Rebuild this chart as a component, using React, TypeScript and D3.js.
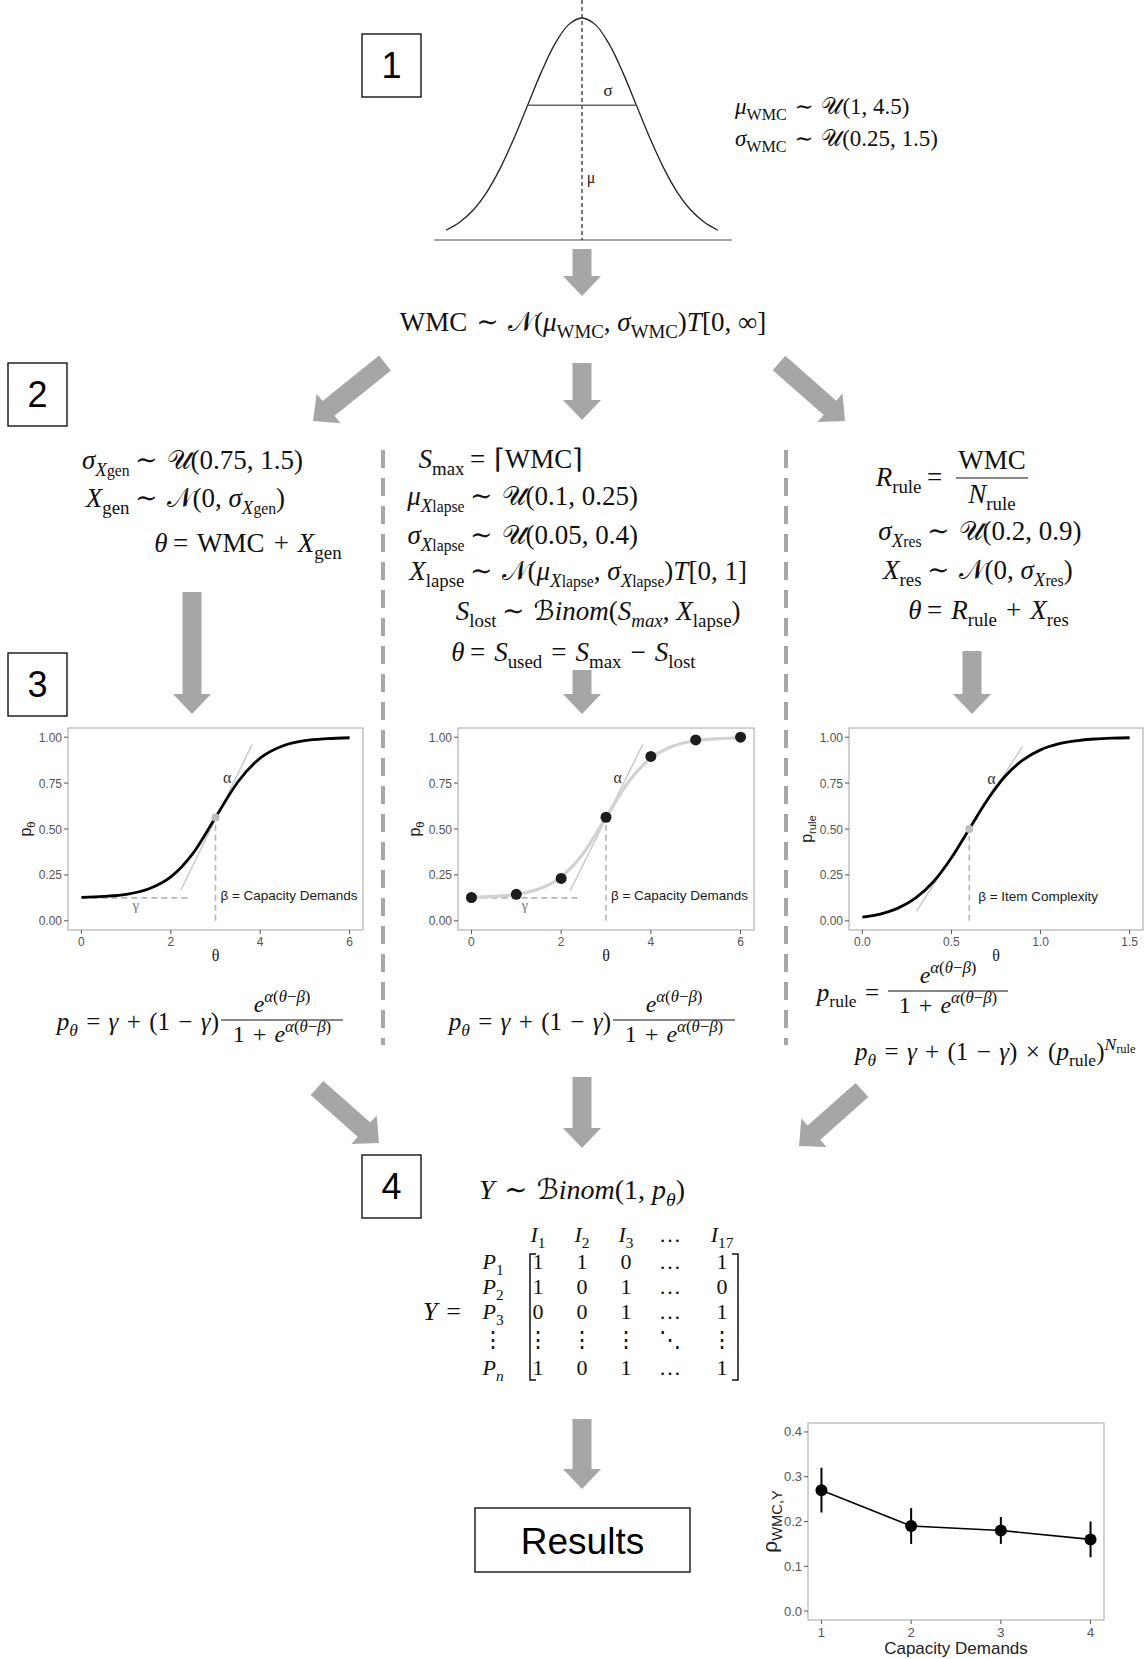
import React from 'react';
import * as d3 from 'd3';

const SERIF = '"Liberation Serif", "DejaVu Serif", serif';
const SANS = '"Liberation Sans", Arial, sans-serif';
const CAL = '"DejaVu Serif", "DejaVu Sans", "Noto Sans", serif';
const ARROW = '#a6a6a6';
const INK = '#111';
const TS = '\u2004';

// step 1: gaussian sketch, relative density at z (in sd units)
const gaussZ = [-2.5, -2.25, -2, -1.75, -1.5, -1.25, -1, -0.75, -0.5, -0.25, 0, 0.25, 0.5, 0.75, 1, 1.25, 1.5, 1.75, 2, 2.25, 2.5];
const gaussD = [0.044, 0.08, 0.135, 0.216, 0.325, 0.458, 0.607, 0.755, 0.882, 0.969, 1, 0.969, 0.882, 0.755, 0.607, 0.458, 0.325, 0.216, 0.135, 0.08, 0.044];

// step 3: item characteristic curves
const thetaCap = [0, 0.5, 1, 1.5, 2, 2.5, 3, 3.5, 4, 4.5, 5, 5.5, 6];
const pCap = [0.128, 0.133, 0.144, 0.173, 0.239, 0.369, 0.563, 0.756, 0.886, 0.952, 0.981, 0.992, 0.997];
const thetaSteps = [0, 1, 2, 3, 4, 5, 6];
const pSteps = [0.127, 0.144, 0.231, 0.564, 0.895, 0.985, 1.0];
const thetaRule = [0, 0.1, 0.2, 0.3, 0.4, 0.5, 0.6, 0.7, 0.8, 0.9, 1.0, 1.1, 1.2, 1.3, 1.4, 1.5];
const pRule = [0.02, 0.037, 0.069, 0.125, 0.214, 0.343, 0.5, 0.657, 0.786, 0.875, 0.931, 0.963, 0.98, 0.99, 0.995, 0.997];
const capTicks = [0, 2, 4, 6];
const ruleTicks = [0, 0.5, 1, 1.5];
const probTicks = [0, 0.25, 0.5, 0.75, 1];

// results
const capDemands = [1, 2, 3, 4];
const rhoMean = [0.27, 0.19, 0.18, 0.16];
const rhoLow = [0.22, 0.15, 0.15, 0.12];
const rhoHigh = [0.32, 0.23, 0.21, 0.2];
const rhoTicks = [0, 0.1, 0.2, 0.3, 0.4];

// step 4: response matrix
const itemIdx = ['1', '2', '3', '…', '17'];
const personIdx = ['1', '2', '3', '⋮', 'n'];
const matrixRows = [
  ['1', '1', '0', '…', '1'],
  ['1', '0', '1', '…', '0'],
  ['0', '0', '1', '…', '1'],
  ['⋮', '⋮', '⋮', '⋱', '⋮'],
  ['1', '0', '1', '…', '1'],
];

type Seg = { t: string; it?: boolean; lv?: number; cal?: boolean };
const R = (t: string): Seg => ({ t });
const I = (t: string): Seg => ({ t, it: true });
const Sb = (t: string, it = false): Seg => ({ t, lv: 1, it });
const Ss = (t: string): Seg => ({ t, lv: 4 });
const Sp = (t: string, it = false): Seg => ({ t, lv: -1, it });
const SpSb = (t: string): Seg => ({ t, lv: 3 });
const C = (t: string): Seg => ({ t, cal: true });

function level(lv: number): [number, number] {
  if (lv === 1) return [0.25, 0.7];
  if (lv === 4) return [0.25, 0.58];
  if (lv === -1) return [-0.42, 0.7];
  if (lv === 3) return [-0.3, 0.5];
  return [0, 1];
}

// widen the spaces around relations and operators, roughly as TeX does
function spaced(t: string) {
  return t
    .replace(/ ([∼=+−×]) /g, `${TS}$1${TS}`)
    .replace(/^([∼=]) /, `$1${TS}`)
    .replace(/ ([∼=])$/, `${TS}$1`);
}

function MathText({ x, y, segs, size = 24, anchor = 'start', fill = INK, family = SERIF, transform }: any) {
  let cur = 0;
  return (
    <text x={x} y={y} fontFamily={family} fontSize={size} textAnchor={anchor} fill={fill}
      transform={transform} style={{ whiteSpace: 'pre' }}>
      {segs.map((s: Seg, k: number) => {
        const [off, sc] = level(s.lv ?? 0);
        const dy = (off - cur) * size;
        cur = off;
        return (
          <tspan key={k} dy={dy} fontSize={size * sc} fontStyle={s.it ? 'italic' : 'normal'}
            fontFamily={s.cal ? CAL : undefined}>{spaced(s.t)}</tspan>
        );
      })}
    </text>
  );
}

function Eq({ rx, y, lhs, rhs, size = 27 }: any) {
  return (
    <g>
      <MathText x={rx - size * 0.5} y={y} segs={lhs} size={size} anchor="end" />
      <MathText x={rx - size * 0.3} y={y} segs={rhs} size={size} />
    </g>
  );
}

function Frac({ cx, bar, w, num, den, size = 24, gapUp = 8, gapDown = 22 }: any) {
  return (
    <g>
      <MathText x={cx} y={bar - gapUp} segs={num} size={size} anchor="middle" />
      <line x1={cx - w / 2} x2={cx + w / 2} y1={bar} y2={bar} stroke={INK} strokeWidth={1.1} />
      <MathText x={cx} y={bar + gapDown} segs={den} size={size} anchor="middle" />
    </g>
  );
}

function Arrow({ x1, y1, x2, y2, shaft = 19, head = 38, hl = 20 }: any) {
  const L = Math.hypot(x2 - x1, y2 - y1);
  const ux = (x2 - x1) / L, uy = (y2 - y1) / L;
  const nx = -uy, ny = ux;
  const bx = x2 - ux * hl, by = y2 - uy * hl;
  const pts = [
    [x1 + nx * shaft / 2, y1 + ny * shaft / 2],
    [bx + nx * shaft / 2, by + ny * shaft / 2],
    [bx + nx * head / 2, by + ny * head / 2],
    [x2, y2],
    [bx - nx * head / 2, by - ny * head / 2],
    [bx - nx * shaft / 2, by - ny * shaft / 2],
    [x1 - nx * shaft / 2, y1 - ny * shaft / 2],
  ];
  return <polygon points={pts.map(p => p.join(',')).join(' ')} fill={ARROW} />;
}

function NumBox({ x, y, label }: any) {
  return (
    <g>
      <rect x={x} y={y} width={59} height={63} fill="none" stroke="#000" strokeWidth={1.3} />
      <text x={x + 29.5} y={y + 44} textAnchor="middle" fontFamily={SANS} fontSize={36} fill="#000">{label}</text>
    </g>
  );
}

const expo = [Sp('α', true), Sp('('), Sp('θ', true), Sp('−'), Sp('β', true), Sp(')')];
const numE = [I('e'), ...expo];
const denE = [R('1 + '), I('e'), ...expo];
const leadP = [I('p'), Sb('θ', true), R(' = '), I('γ'), R(' + (1 − '), I('γ'), R(')')];

function IrtPanel({ left, top, w, h, xDomain, xTicks, xFmt, ylab, ylx, curveX, curveY, curveColor,
  dotsX, dotsY, tangent, gammaEnd, beta, alphaAt, betaAt, betaText, gammaAt }: any) {
  const x = d3.scaleLinear().domain(xDomain).range([left, left + w]);
  const y = d3.scaleLinear().domain([-0.05, 1.05]).range([top + h, top]);
  const line = d3.line<number>().x((_, i) => x(curveX[i])).y(d => y(d)).curve(d3.curveMonotoneX);
  const pBeta = curveY[curveX.indexOf(beta)];
  return (
    <g>
      <rect x={left} y={top} width={w} height={h} fill="#fff" stroke="#b3b3b3" strokeWidth={1.2} />
      {probTicks.map(t => (
        <g key={t}>
          <line x1={left - 4} x2={left} y1={y(t)} y2={y(t)} stroke="#555" />
          <text x={left - 6} y={y(t) + 4.5} textAnchor="end" fontFamily={SANS} fontSize={12} fill="#555">
            {d3.format('.2f')(t)}</text>
        </g>
      ))}
      {xTicks.map((t: number) => (
        <g key={t}>
          <line x1={x(t)} x2={x(t)} y1={top + h} y2={top + h + 4} stroke="#555" />
          <text x={x(t)} y={top + h + 16} textAnchor="middle" fontFamily={SANS} fontSize={12} fill="#555">
            {xFmt(t)}</text>
        </g>
      ))}
      <MathText x={left + w / 2} y={top + h + 31} segs={[R('θ')]} size={16} anchor="middle" fill="#222" />
      <MathText x={0} y={0} segs={ylab} size={16} anchor="middle" family={SANS} fill="#222"
        transform={`translate(${ylx},${top + h / 2}) rotate(-90)`} />
      {gammaEnd != null && (
        <line x1={x(0)} x2={x(gammaEnd)} y1={y(curveY[0] - 0.003)} y2={y(curveY[0] - 0.003)}
          stroke="#b5b5b5" strokeWidth={1.6} strokeDasharray="6 4" />
      )}
      <line x1={x(beta)} x2={x(beta)} y1={y(0)} y2={y(pBeta - 0.04)} stroke="#b5b5b5" strokeWidth={1.6}
        strokeDasharray="6 4" />
      <line x1={x(tangent[0][0])} y1={y(tangent[0][1])} x2={x(tangent[1][0])} y2={y(tangent[1][1])}
        stroke="#c4c4c4" strokeWidth={1.3} />
      <path d={line(curveY) || ''} fill="none" stroke={curveColor} strokeWidth={curveColor === '#000' ? 2.8 : 3.2} />
      {dotsX ? dotsX.map((t: number, i: number) => (
        <circle key={t} cx={x(t)} cy={y(dotsY[i])} r={5.5} fill="#1c1c1c" />
      )) : <circle cx={x(beta)} cy={y(pBeta)} r={4} fill="#bdbdbd" />}
      <MathText x={x(alphaAt[0])} y={y(alphaAt[1]) + 5} segs={[R('α')]} size={16} anchor="middle" fill="#333" />
      {gammaAt && (
        <MathText x={x(gammaAt[0])} y={y(gammaAt[1]) + 5} segs={[R('γ')]} size={15} anchor="middle" fill="#777" />
      )}
      <text x={x(betaAt[0])} y={y(betaAt[1])} fontFamily={SANS} fontSize={13.5} fill="#1a1a1a">{betaText}</text>
    </g>
  );
}

function ResultsPlot() {
  const left = 808, top = 1423, w = 296, h = 197;
  const x = d3.scaleLinear().domain([0.85, 4.15]).range([left, left + w]);
  const y = d3.scaleLinear().domain([-0.02, 0.42]).range([top + h, top]);
  const line = d3.line<number>().x((_, i) => x(capDemands[i])).y(d => y(d));
  return (
    <g>
      <rect x={left} y={top} width={w} height={h} fill="#fff" stroke="#b3b3b3" strokeWidth={1.2} />
      {rhoTicks.map(t => (
        <g key={t}>
          <line x1={left - 4} x2={left} y1={y(t)} y2={y(t)} stroke="#555" />
          <text x={left - 6} y={y(t) + 4.5} textAnchor="end" fontFamily={SANS} fontSize={13} fill="#555">
            {d3.format('.1f')(t)}</text>
        </g>
      ))}
      {capDemands.map(t => (
        <g key={t}>
          <line x1={x(t)} x2={x(t)} y1={top + h} y2={top + h + 4} stroke="#555" />
          <text x={x(t)} y={top + h + 17} textAnchor="middle" fontFamily={SANS} fontSize={13} fill="#555">{t}</text>
        </g>
      ))}
      <text x={left + w / 2} y={1654} textAnchor="middle" fontFamily={SANS} fontSize={17} fill="#222">Capacity Demands</text>
      <MathText x={0} y={0} segs={[R('ρ'), Sb('WMC,Y')]} size={21} anchor="middle" family={SANS} fill="#222"
        transform={`translate(777,${top + h / 2}) rotate(-90)`} />
      {capDemands.map((c, i) => (
        <line key={c} x1={x(c)} x2={x(c)} y1={y(rhoLow[i])} y2={y(rhoHigh[i])} stroke="#000" strokeWidth={2} />
      ))}
      <path d={line(rhoMean) || ''} fill="none" stroke="#000" strokeWidth={1.6} />
      {capDemands.map((c, i) => (
        <circle key={c} cx={x(c)} cy={y(rhoMean[i])} r={6} fill="#000" />
      ))}
    </g>
  );
}

function Gaussian() {
  const x = d3.scaleLinear().domain([-2.5, 2.5]).range([446, 718]);
  const y = d3.scaleLinear().domain([0, 1]).range([240, 18]);
  const line = d3.line<number>().x((_, i) => x(gaussZ[i])).y(d => y(d)).curve(d3.curveCatmullRom);
  const yS = y(gaussD[gaussZ.indexOf(1)]);
  return (
    <g>
      <line x1={434} x2={732} y1={240} y2={240} stroke="#8a8a8a" strokeWidth={1.6} />
      <line x1={x(0)} x2={x(0)} y1={0} y2={240} stroke="#222" strokeWidth={1.2} strokeDasharray="4 3" />
      <path d={line(gaussD) || ''} fill="none" stroke="#222" strokeWidth={1.3} />
      <line x1={x(-1)} x2={x(1)} y1={yS} y2={yS} stroke="#666" strokeWidth={1.6} />
      <MathText x={608} y={96} segs={[R('σ')]} size={17} anchor="middle" fill="#222" />
      <MathText x={591} y={183} segs={[R('μ')]} size={16} anchor="middle" fill="#222" />
    </g>
  );
}

function Matrix() {
  const cols = [538, 582, 626, 670, 722];
  const rows = [1269, 1294, 1319, 1347, 1375];
  return (
    <g>
      <MathText x={423} y={1320} segs={[I('Y'), R(' =')]} size={26} />
      {itemIdx.map((s, j) => (
        <MathText key={j} x={cols[j]} y={1242} anchor="middle" size={22}
          segs={s === '…' ? [R('…')] : [I('I'), Sb(s)]} />
      ))}
      {personIdx.map((s, i) => (
        <MathText key={i} x={493} y={rows[i]} anchor="middle" size={22}
          segs={s === '⋮' ? [R('⋮')] : [I('P'), Sb(s, s === 'n')]} />
      ))}
      {matrixRows.map((row, i) => row.map((v, j) => (
        <MathText key={`${i}-${j}`} x={cols[j]} y={rows[i]} anchor="middle" size={22} segs={[R(v)]} />
      )))}
      <path d="M536,1254 H530 V1380 H536" fill="none" stroke={INK} strokeWidth={1.5} />
      <path d="M732,1254 H738 V1380 H732" fill="none" stroke={INK} strokeWidth={1.5} />
    </g>
  );
}

export default function App() {
  return (
    <svg width={1148} height={1659} viewBox="0 0 1148 1659"
      style={{ position: 'absolute', left: 0, top: 0, background: '#fff' }}>
      <rect width={1148} height={1659} fill="#fff" />

      {/* 1: WMC distribution */}
      <NumBox x={362} y={34} label="1" />
      <Gaussian />
      <MathText x={735} y={114} size={23} segs={[I('μ'), Sb('WMC'), R(' ∼ '), C('𝒰'), R('(1, 4.5)')]} />
      <MathText x={735} y={146} size={23} segs={[I('σ'), Sb('WMC'), R(' ∼ '), C('𝒰'), R('(0.25, 1.5)')]} />
      <Arrow x1={582} y1={249} x2={582} y2={296} />
      <MathText x={583} y={331} size={27} anchor="middle"
        segs={[R('WMC ∼ '), C('𝒩'), R('('), I('μ'), Sb('WMC'), R(', '), I('σ'), Sb('WMC'), R(')'), I('T'), R('[0, ∞]')]} />

      {/* 2: theta per model */}
      <NumBox x={8} y={363} label="2" />
      <Arrow x1={385} y1={363} x2={313} y2={421} />
      <Arrow x1={582} y1={363} x2={582} y2={420} />
      <Arrow x1={779} y1={363} x2={845} y2={421} />

      <Eq rx={143} y={469} lhs={[I('σ'), Sb('X', true), Ss('gen')]} rhs={[R('∼ '), C('𝒰'), R('(0.75, 1.5)')]} />
      <Eq rx={143} y={507} lhs={[I('X'), Sb('gen')]}
        rhs={[R('∼ '), C('𝒩'), R('(0, '), I('σ'), Sb('X', true), Ss('gen'), R(')')]} />
      <Eq rx={181} y={552} lhs={[I('θ')]} rhs={[R('= WMC + '), I('X'), Sb('gen')]} />

      <Eq rx={478} y={468} lhs={[I('S'), Sb('max')]} rhs={[R('= ⌈WMC⌉')]} />
      <Eq rx={478} y={505} lhs={[I('μ'), Sb('X', true), Ss('lapse')]} rhs={[R('∼ '), C('𝒰'), R('(0.1, 0.25)')]} />
      <Eq rx={478} y={544} lhs={[I('σ'), Sb('X', true), Ss('lapse')]} rhs={[R('∼ '), C('𝒰'), R('(0.05, 0.4)')]} />
      <Eq rx={478} y={580} lhs={[I('X'), Sb('lapse')]}
        rhs={[R('∼ '), C('𝒩'), R('('), I('μ'), Sb('X', true), Ss('lapse'), R(', '), I('σ'), Sb('X', true), Ss('lapse'),
          R(')'), I('T'), R('[0, 1]')]} />
      <Eq rx={510} y={620} lhs={[I('S'), Sb('lost')]}
        rhs={[R('∼ '), C('ℬ'), I('inom'), R('('), I('S'), Sb('max', true), R(', '), I('X'), Sb('lapse'), R(')')]} />
      <Eq rx={478} y={661} lhs={[I('θ')]}
        rhs={[R('= '), I('S'), Sb('used'), R(' = '), I('S'), Sb('max'), R(' − '), I('S'), Sb('lost')]} />

      <Eq rx={935} y={486} lhs={[I('R'), Sb('rule')]} rhs={[R('=')]} />
      <Frac cx={992} bar={478} w={72} size={27} gapUp={9} gapDown={25} num={[R('WMC')]} den={[I('N'), Sb('rule')]} />
      <Eq rx={935} y={540} lhs={[I('σ'), Sb('X', true), Ss('res')]} rhs={[R('∼ '), C('𝒰'), R('(0.2, 0.9)')]} />
      <Eq rx={935} y={579} lhs={[I('X'), Sb('res')]}
        rhs={[R('∼ '), C('𝒩'), R('(0, '), I('σ'), Sb('X', true), Ss('res'), R(')')]} />
      <Eq rx={935} y={619} lhs={[I('θ')]} rhs={[R('= '), I('R'), Sb('rule'), R(' + '), I('X'), Sb('res')]} />

      {[383, 786].map(xd => (
        <line key={xd} x1={xd} x2={xd} y1={450} y2={1045} stroke={ARROW} strokeWidth={4} strokeDasharray="18 10" />
      ))}

      {/* 3: response probabilities */}
      <NumBox x={8} y={653} label="3" />
      <Arrow x1={192} y1={592} x2={192} y2={714} />
      <Arrow x1={582} y1={670} x2={582} y2={714} />
      <Arrow x1={972} y1={651} x2={972} y2={714} />

      <IrtPanel left={68} top={728} w={295} h={202} xDomain={[-0.3, 6.3]} xTicks={capTicks} xFmt={d3.format('d')}
        ylab={[R('p'), Sb('θ')]} ylx={31} curveX={thetaCap} curveY={pCap} curveColor="#000"
        tangent={[[2.22, 0.165], [3.82, 0.96]]} gammaEnd={2.45} beta={3} alphaAt={[3.26, 0.776]}
        gammaAt={[1.22, 0.085]} betaAt={[3.11, 0.113]} betaText="β = Capacity Demands" />
      <IrtPanel left={458} top={728} w={296} h={202} xDomain={[-0.3, 6.3]} xTicks={capTicks} xFmt={d3.format('d')}
        ylab={[R('p'), Sb('θ')]} ylx={420} curveX={thetaCap} curveY={pCap} curveColor="#d2d2d2"
        dotsX={thetaSteps} dotsY={pSteps}
        tangent={[[2.2, 0.164], [3.82, 0.96]]} gammaEnd={2.42} beta={3} alphaAt={[3.26, 0.78]}
        gammaAt={[1.19, 0.085]} betaAt={[3.11, 0.113]} betaText="β = Capacity Demands" />
      <IrtPanel left={849} top={728} w={294} h={202} xDomain={[-0.075, 1.575]} xTicks={ruleTicks}
        xFmt={d3.format('.1f')} ylab={[R('p'), Sb('rule')]} ylx={812} curveX={thetaRule} curveY={pRule}
        curveColor="#000" tangent={[[0.303, 0.051], [0.898, 0.949]]} beta={0.6} alphaAt={[0.725, 0.774]}
        betaAt={[0.65, 0.109]} betaText="β = Item Complexity" />

      <MathText x={219} y={1030} segs={leadP} size={25} anchor="end" />
      <Frac cx={282} bar={1020} w={122} num={numE} den={denE} />
      <MathText x={611} y={1030} segs={leadP} size={25} anchor="end" />
      <Frac cx={674} bar={1020} w={122} num={numE} den={denE} />
      <MathText x={879} y={1001} segs={[I('p'), Sb('rule'), R(' =')]} size={25} anchor="end" />
      <Frac cx={948} bar={991} w={120} num={numE} den={denE} />
      <MathText x={855} y={1060} size={25}
        segs={[I('p'), Sb('θ', true), R(' = '), I('γ'), R(' + (1 − '), I('γ'), R(') × ('), I('p'), Sb('rule'), R(')'),
          Sp('N', true), SpSb('rule')]} />

      {/* 4: observed responses */}
      <Arrow x1={317} y1={1088} x2={379} y2={1143} />
      <Arrow x1={582} y1={1077} x2={582} y2={1148} />
      <Arrow x1={862} y1={1090} x2={799} y2={1146} />
      <NumBox x={362} y={1155} label="4" />
      <MathText x={479} y={1199} size={28}
        segs={[I('Y'), R(' ∼ '), C('ℬ'), I('inom'), R('(1, '), I('p'), Sb('θ', true), R(')')]} />
      <Matrix />

      <Arrow x1={582} y1={1419} x2={582} y2={1489} />
      <rect x={475} y={1508} width={215} height={64} fill="none" stroke="#000" strokeWidth={1.3} />
      <text x={582.5} y={1554} textAnchor="middle" fontFamily={SANS} fontSize={37} fill="#000">Results</text>
      <ResultsPlot />
    </svg>
  );
}
